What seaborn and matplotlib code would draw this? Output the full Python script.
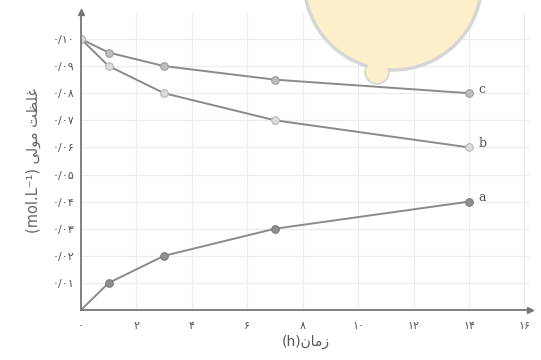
import pandas as pd
import seaborn as sns
import matplotlib.pyplot as plt
from matplotlib.patches import Ellipse

# ======================
# DATA
# ======================
time_h = [0, 1, 3, 7, 14]
conc_a = [0.000, 0.010, 0.020, 0.030, 0.040]
conc_b = [0.100, 0.090, 0.080, 0.070, 0.060]
conc_c = [0.100, 0.095, 0.090, 0.085, 0.080]

fa = str.maketrans("0123456789", "۰۱۲۳۴۵۶۷۸۹")
x_ticks = [0, 2, 4, 6, 8, 10, 12, 14, 16]
y_ticks = [0.01, 0.02, 0.03, 0.04, 0.05, 0.06, 0.07, 0.08, 0.09, 0.10]
x_labels = [str(t).translate(fa) for t in x_ticks]
y_labels = [("0/" + f"{v:.2f}"[2:]).translate(fa) for v in y_ticks]

# pre-shaped (visual order) persian labels
xlabel = "(h)" + "ﻥﺎﻣﺯ"
ylabel = "(mol.L⁻¹) " + "ﻰﻟﻮﻣ ﺖﻈﻠﻏ"

# ======================
# PLOT
# ======================
sns.set_style("white")
plt.rcParams['font.family'] = ['DejaVu Sans']

fig = plt.figure(figsize=(5.41, 3.60), dpi=100)
ax = fig.add_axes([0.1497, 0.1389, 0.830, 0.828])

line_col = "#8a8a8a"
sns.lineplot(x=time_h, y=conc_c, ax=ax, color=line_col, lw=1.4, marker="o",
             markersize=5.5, markerfacecolor="#bdbdbd", markeredgecolor="#9a9a9a")
sns.lineplot(x=time_h, y=conc_b, ax=ax, color=line_col, lw=1.4, marker="o",
             markersize=5.5, markerfacecolor="#dcdcdc", markeredgecolor="#b5b5b5")
sns.lineplot(x=time_h, y=conc_a, ax=ax, color=line_col, lw=1.4, marker="o",
             markersize=5.5, markerfacecolor="#8f8f8f", markeredgecolor="#7a7a7a",
             markevery=[1, 2, 3, 4])

for name, vals in [("c", conc_c), ("b", conc_b), ("a", conc_a)]:
    ax.text(time_h[-1] + 0.35, vals[-1] + 0.0015, name, fontsize=9,
            family="DejaVu Serif", color="#555555", va="center")

ax.set_xlim(0, 16.2)
ax.set_ylim(0, 0.110)
ax.set_xticks(x_ticks)
ax.set_xticklabels(x_labels)
ax.set_yticks(y_ticks)
ax.set_yticklabels(y_labels)
ax.tick_params(direction="in", length=4, width=1, color="#777777",
               labelsize=8, labelcolor="#555555")
ax.tick_params(axis="x", pad=8)
ax.tick_params(axis="y", pad=5)

ax.grid(True, color="#ececec", lw=0.8)
for s in ["top", "right"]:
    ax.spines[s].set_visible(False)
for s in ["left", "bottom"]:
    ax.spines[s].set_color("#777777")
    ax.spines[s].set_linewidth(1.3)

# arrow heads
ax.plot(1, 0, ">", color="#777777", ms=4, transform=ax.transAxes, clip_on=False)
ax.plot(0, 1, "^", color="#777777", ms=4, transform=ax.transAxes, clip_on=False)

ax.set_xlabel(xlabel, fontsize=10, color="#555555", labelpad=3)
ax.set_ylabel(ylabel, fontsize=10.5, color="#666666", labelpad=8)

# watermark blob
W, H = 541, 360
fill = "#fcefc9"
edge = "#d6d6d6"
bump_edge = Ellipse((377 / W, 1 - 72 / H), 2 * 11 / W, 2 * 11 / H,
                    transform=fig.transFigure, facecolor=fill,
                    edgecolor=edge, lw=2.5, zorder=9)
blob = Ellipse((393 / W, 1 + 19 / H), 2 * 89 / W, 2 * 89 / H,
               transform=fig.transFigure, facecolor=fill,
               edgecolor=edge, lw=2.5, zorder=10)
bump_fill = Ellipse((377 / W, 1 - 72 / H), 2 * 11 / W, 2 * 11 / H,
                    transform=fig.transFigure, facecolor=fill,
                    edgecolor="none", zorder=11)
fig.patches.extend([bump_edge, blob, bump_fill])

plt.savefig("out.png", dpi=100)
